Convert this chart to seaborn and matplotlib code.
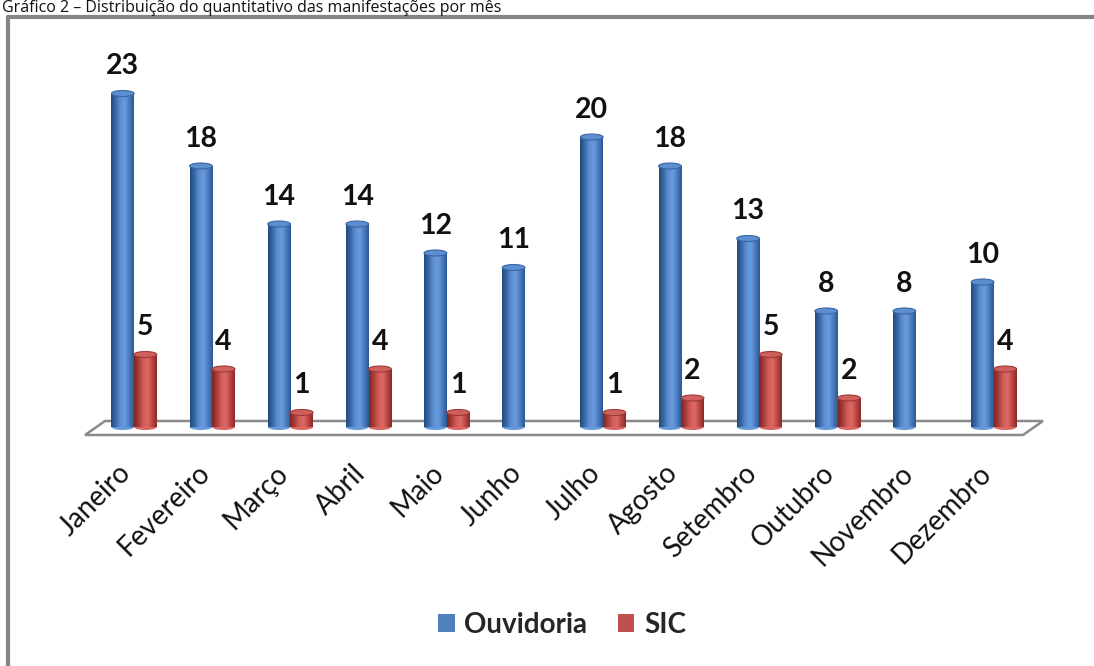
import numpy as np
import pandas as pd
import seaborn as sns
import matplotlib
matplotlib.use("Agg")
import matplotlib.pyplot as plt
from matplotlib.patches import Ellipse, Polygon, Patch
from matplotlib.lines import Line2D
from matplotlib.colors import LinearSegmentedColormap
from matplotlib.transforms import ScaledTranslation

# ---- data ----
meses = ["Janeiro", "Fevereiro", "Março", "Abril", "Maio", "Junho",
         "Julho", "Agosto", "Setembro", "Outubro", "Novembro", "Dezembro"]
ouvidoria = [23, 18, 14, 14, 12, 11, 20, 18, 13, 8, 8, 10]
sic = [5, 4, 1, 4, 1, 0, 1, 2, 5, 2, 0, 4]
series = ["Ouvidoria", "SIC"]
titulo = "Gráfico 2 – Distribuição do quantitativo das manifestações por mês"

df = pd.DataFrame({
    "mes": meses * 2,
    "valor": ouvidoria + sic,
    "serie": [series[0]] * len(meses) + [series[1]] * len(meses),
})

# ---- style ----
sns.set_theme(style="white")
plt.rcParams["font.family"] = ["Lato", "DejaVu Sans"]

W, H = 1094, 666
fig = plt.figure(figsize=(W / 100, H / 100), dpi=100)
fig.patch.set_facecolor("white")

px_per_unit = 14.5
y0_px = 427          # baseline (value 0), pixels from top
ylo, yhi = -0.5, 27
ax_left, ax_right = 95, 1033
ax_bottom_px = y0_px + (-ylo) * px_per_unit
ax_top_px = y0_px - yhi * px_per_unit
ax = fig.add_axes([ax_left / W, 1 - ax_bottom_px / H,
                   (ax_right - ax_left) / W, (ax_bottom_px - ax_top_px) / H])

base_colors = {"Ouvidoria": "#4F81BD", "SIC": "#C0504D"}
sns.barplot(data=df, x="mes", y="valor", hue="serie", order=meses,
            hue_order=series, palette=base_colors, width=0.58,
            dodge=True, ax=ax, legend=False, saturation=1, zorder=3)
ax.set_xlim(-0.5, len(meses) - 0.5)
ax.set_ylim(ylo, yhi)
ax.set_facecolor("none")
for s in ax.spines.values():
    s.set_visible(False)
ax.set_yticks([])
ax.set_ylabel("")
ax.set_xlabel("")

# cylinder shading
cmaps = {
    "Ouvidoria": LinearSegmentedColormap.from_list(
        "blu", ["#23497C", "#3A69A8", "#5B8FD3", "#6A9CDD", "#4A7CC0", "#2C5792"]),
    "SIC": LinearSegmentedColormap.from_list(
        "red", ["#7E2422", "#A63D3A", "#D25B57", "#DC6A66", "#BA4744", "#8A2A27"]),
}
cap_colors = {"Ouvidoria": ("#5C8ED0", "#3A66A3"), "SIC": ("#D0605C", "#9C3A37")}
grad = np.linspace(0, 1, 64).reshape(1, -1)
cap_h = 6 / px_per_unit

n = len(meses)
for i, patch in enumerate(ax.patches[: 2 * n]):
    serie = series[i // n]
    h = patch.get_height()
    patch.set_edgecolor("none")
    if h <= 0:
        patch.set_visible(False)
        continue
    x, w = patch.get_x(), patch.get_width()
    cx = x + w / 2
    # bottom rounding
    ax.add_patch(Ellipse((cx, 0), w, cap_h, facecolor=cmaps[serie](0.55),
                         edgecolor="none", zorder=2.9, clip_on=False))
    img = ax.imshow(grad, cmap=cmaps[serie], extent=(x, x + w, 0, h),
                    aspect="auto", zorder=3.1, interpolation="bicubic")
    img.set_clip_path(patch)
    fc, ec = cap_colors[serie]
    ax.add_patch(Ellipse((cx, h), w, cap_h, facecolor=fc, edgecolor=ec,
                         lw=0.8, zorder=3.2))
    ax.annotate(f"{int(h)}", (cx, h), xytext=(0, 14), textcoords="offset points",
                ha="center", va="baseline", fontsize=20.5, fontweight="bold",
                color="#111111", zorder=5)

# 3D floor
fx0 = -0.5 - 10 / 78.2
fdx = 20 / 78.2
y_front = -8 / px_per_unit
y_back = 6 / px_per_unit
floor = Polygon([[fx0, y_front], [fx0 + 12, y_front],
                 [fx0 + 12 + fdx, y_back], [fx0 + fdx, y_back]],
                closed=True, facecolor="white", edgecolor="#8A8A8A",
                lw=1.8, zorder=1, clip_on=False)
ax.add_patch(floor)

# month labels
ax.tick_params(axis="x", length=0, pad=25)
ax.set_xticks(range(n))
ax.set_xticklabels(meses, rotation=45, ha="right", va="center",
                   rotation_mode="anchor", fontsize=20, color="#111111")
shift = ScaledTranslation(-7 / 100, 0, fig.dpi_scale_trans)
for lab in ax.get_xticklabels():
    lab.set_transform(lab.get_transform() + shift)

# legend
handles = [Patch(facecolor=base_colors[s], edgecolor="none", label=s) for s in series]
leg = fig.legend(handles=handles, loc="center", ncol=2, frameon=False,
                 bbox_to_anchor=(562 / W, 1 - 625 / H),
                 prop={"size": 20, "weight": "bold"},
                 handlelength=0.6, handleheight=0.6,
                 handletextpad=0.35, columnspacing=1.1)

# outer frame (top and left edges)
frame_y = 1 - 17 / H
fig.add_artist(Line2D([8 / W, 1.0], [frame_y, frame_y],
                      transform=fig.transFigure, color="#858585", lw=3))
fig.add_artist(Line2D([8 / W, 8 / W], [frame_y, 0],
                      transform=fig.transFigure, color="#858585", lw=3))

# caption
fig.text(2 / W, 1 - 12.5 / H, titulo, ha="left", va="baseline",
         fontsize=11.5, color="#111111", family=["Open Sans", "DejaVu Sans"])

fig.savefig("out.png", dpi=100, facecolor="white")
